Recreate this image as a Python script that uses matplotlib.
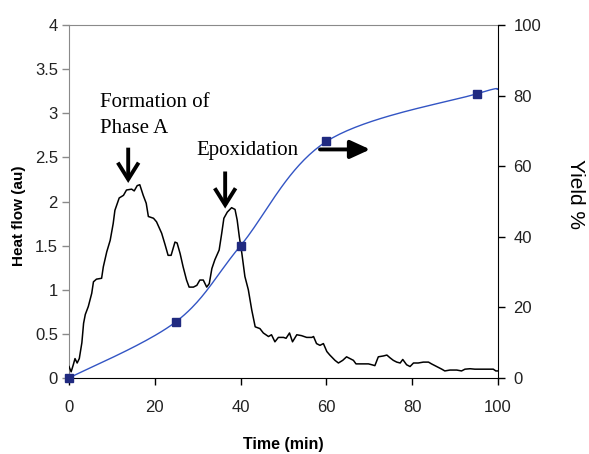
import numpy as np
import matplotlib
matplotlib.use("Agg")
import matplotlib.pyplot as plt
from matplotlib.patches import FancyArrowPatch

# Heat flow trace (DSC signal)
time_min = [0, 0.5, 1.0, 1.4, 1.9, 2.4, 3.0, 3.4, 3.8, 4.5, 5.3, 5.7, 6.4, 7.6, 8.0,
            8.8, 9.6, 10.3, 10.7, 11.7, 12.7, 13.4, 14.6, 15.2, 15.9, 16.5, 17.3,
            18.0, 18.5, 19.7, 20.4, 21.6, 22.4, 23.1, 23.8, 24.7, 25.2, 25.9, 26.6,
            27.4, 28.0, 29.0, 29.8, 30.5, 31.3, 32.1, 32.7, 33.3, 34.0, 35.0, 35.6,
            36.1, 36.9, 37.9, 38.7, 39.2, 39.7, 40.3, 41.0, 41.8, 42.6, 43.4, 44.5,
            45.3, 46.5, 47.2, 48.0, 48.8, 50.0, 50.6, 51.4, 52.1, 53.1, 54.2, 55.4,
            56.6, 57.0, 57.7, 58.5, 59.3, 60.1, 60.8, 62.0, 62.8, 63.8, 64.7, 65.5,
            66.3, 66.9, 67.8, 68.6, 69.8, 70.6, 71.3, 72.1, 73.3, 74.1, 74.8, 75.6,
            76.4, 77.2, 77.8, 78.7, 79.5, 80.3, 81.4, 82.6, 83.8, 84.5, 85.7, 86.9,
            87.6, 88.8, 90.4, 91.5, 92.3, 93.5, 94.6, 96.6, 98.9, 99.5, 100]
heat_flow = [0.13, 0.07, 0.15, 0.22, 0.17, 0.22, 0.40, 0.62, 0.72, 0.81, 0.96, 1.09,
             1.12, 1.13, 1.26, 1.43, 1.56, 1.75, 1.90, 2.04, 2.07, 2.13, 2.14, 2.12,
             2.18, 2.19, 2.07, 1.98, 1.83, 1.81, 1.77, 1.64, 1.51, 1.39, 1.39, 1.54,
             1.53, 1.41, 1.26, 1.11, 1.03, 1.03, 1.05, 1.11, 1.11, 1.03, 1.07, 1.24,
             1.34, 1.45, 1.64, 1.81, 1.88, 1.93, 1.91, 1.79, 1.60, 1.41, 1.15, 1.00,
             0.77, 0.58, 0.56, 0.51, 0.47, 0.49, 0.41, 0.46, 0.46, 0.45, 0.51, 0.41,
             0.49, 0.48, 0.46, 0.46, 0.47, 0.39, 0.37, 0.39, 0.30, 0.26, 0.20, 0.17,
             0.20, 0.24, 0.22, 0.20, 0.16, 0.16, 0.16, 0.16, 0.15, 0.14, 0.24, 0.25,
             0.26, 0.23, 0.20, 0.18, 0.17, 0.21, 0.15, 0.13, 0.17, 0.17, 0.18, 0.18,
             0.16, 0.13, 0.10, 0.08, 0.09, 0.09, 0.08, 0.10, 0.105, 0.10, 0.10, 0.10,
             0.08, 0.08]

# Epoxide yield (sampled points) and curve knots
yield_time = [0, 25, 40, 60, 95]
yield_pct = [0, 16, 37.5, 67, 80.5]
curve_time = [0, 25, 40, 60, 95, 100]
curve_pct = [0, 16, 37.5, 67, 80.5, 81.8]

hf_ticks = [0, 0.5, 1, 1.5, 2, 2.5, 3, 3.5, 4]
hf_tick_labels = ["0", "0.5", "1", "1.5", "2", "2.5", "3", "3.5", "4"]
yield_ticks = [0, 20, 40, 60, 80, 100]
time_ticks = [0, 20, 40, 60, 80, 100]


def smooth_curve(xs, ys, sx, sy, n=40):
    """Catmull-Rom spline through the knots, computed in screen-like units."""
    p = np.column_stack([np.asarray(xs, float) * sx, np.asarray(ys, float) * sy])
    p = np.vstack([p[0], p, p[-1]])
    out = []
    for i in range(1, len(p) - 2):
        p0, p1, p2, p3 = p[i - 1], p[i], p[i + 1], p[i + 2]
        c1 = p1 + (p2 - p0) / 6.0
        c2 = p2 - (p3 - p1) / 6.0
        t = np.linspace(0, 1, n)[:, None]
        seg = ((1 - t) ** 3) * p1 + 3 * ((1 - t) ** 2) * t * c1 + 3 * (1 - t) * t ** 2 * c2 + t ** 3 * p2
        out.append(seg if i == 1 else seg[1:])
    out = np.vstack(out)
    return out[:, 0] / sx, out[:, 1] / sy


plt.rcParams["font.family"] = ["Liberation Sans", "DejaVu Sans"]

fig = plt.figure(figsize=(5.89, 4.54), dpi=100)
ax = fig.add_axes([69 / 589, 1 - 378 / 454, 429 / 589, 353 / 454])
ax2 = ax.twinx()

ax.plot(time_min, heat_flow, color="black", lw=1.1, zorder=3)

cx, cy = smooth_curve(curve_time, curve_pct, 4.29, 3.53)
ax2.plot(cx, cy, color="#3355c4", lw=1.0, zorder=2)
ax2.plot(yield_time, yield_pct, ls="none", marker="s", ms=5.6,
         mfc="#202a80", mec="#202a80", zorder=4, clip_on=False)

ax.set_xlim(0, 100)
ax.set_ylim(0, 4)
ax2.set_ylim(0, 100)
ax.set_xticks(time_ticks)
ax.set_yticks(hf_ticks)
ax.set_yticklabels(hf_tick_labels)
ax2.set_yticks(yield_ticks)

gray = "#8a8a8a"
for s in ["top", "left"]:
    ax.spines[s].set_color(gray)
ax.spines["right"].set_visible(False)
ax.spines["bottom"].set_color("black")
for s in ["top", "left", "bottom"]:
    ax2.spines[s].set_visible(False)
ax2.spines["right"].set_color("black")

ax.tick_params(axis="x", direction="out", length=5, width=1, colors="black",
               labelsize=12, pad=11, labelcolor="#222222")
ax.tick_params(axis="y", direction="out", length=5, width=1, color=gray,
               labelsize=12, pad=3, labelcolor="#222222")
ax2.tick_params(axis="y", direction="out", length=5, width=1, colors="black",
                labelsize=12, pad=6, labelcolor="#222222")

ax.set_xlabel("Time (min)", fontsize=11.5, fontweight="bold")
ax.xaxis.set_label_coords(0.5, (378 - 445) / 353)
ax.xaxis.label.set_va("center")
ax.set_ylabel("Heat flow (au)", fontsize=11, fontweight="bold")
ax.yaxis.set_label_coords((19.5 - 69) / 429, (378 - 216) / 353)
ax.yaxis.label.set_va("center")
ax2.set_ylabel("Yield %", fontsize=15, rotation=270)
ax2.yaxis.set_label_coords((576 - 69) / 429, (378 - 194) / 353)
ax2.yaxis.label.set_va("center")

serif = ["Liberation Serif", "DejaVu Serif"]
ax.text(7.2, 3.07, "Formation of", family=serif, fontsize=15, va="baseline")
ax.text(7.2, 2.78, "Phase A", family=serif, fontsize=15, va="baseline")
ax.text(29.7, 2.53, "Epoxidation", family=serif, fontsize=15, va="baseline")

for (x0, y0), (x1, y1) in [((13.8, 2.61), (13.8, 2.21)), ((36.4, 2.34), (36.4, 1.92))]:
    ax.add_patch(FancyArrowPatch((x0, y0), (x1, y1),
                                 arrowstyle="->,head_length=12,head_width=7.5",
                                 mutation_scale=1, lw=2.8, color="black",
                                 shrinkA=0, shrinkB=0, joinstyle="miter",
                                 capstyle="butt", zorder=5))
ax.add_patch(FancyArrowPatch((58.5, 2.59), (70.2, 2.59),
                             arrowstyle="-|>,head_length=12,head_width=5.5",
                             mutation_scale=1, lw=2.8, color="black",
                             shrinkA=0, shrinkB=0, zorder=5))

fig.savefig("out.png", dpi=100)
